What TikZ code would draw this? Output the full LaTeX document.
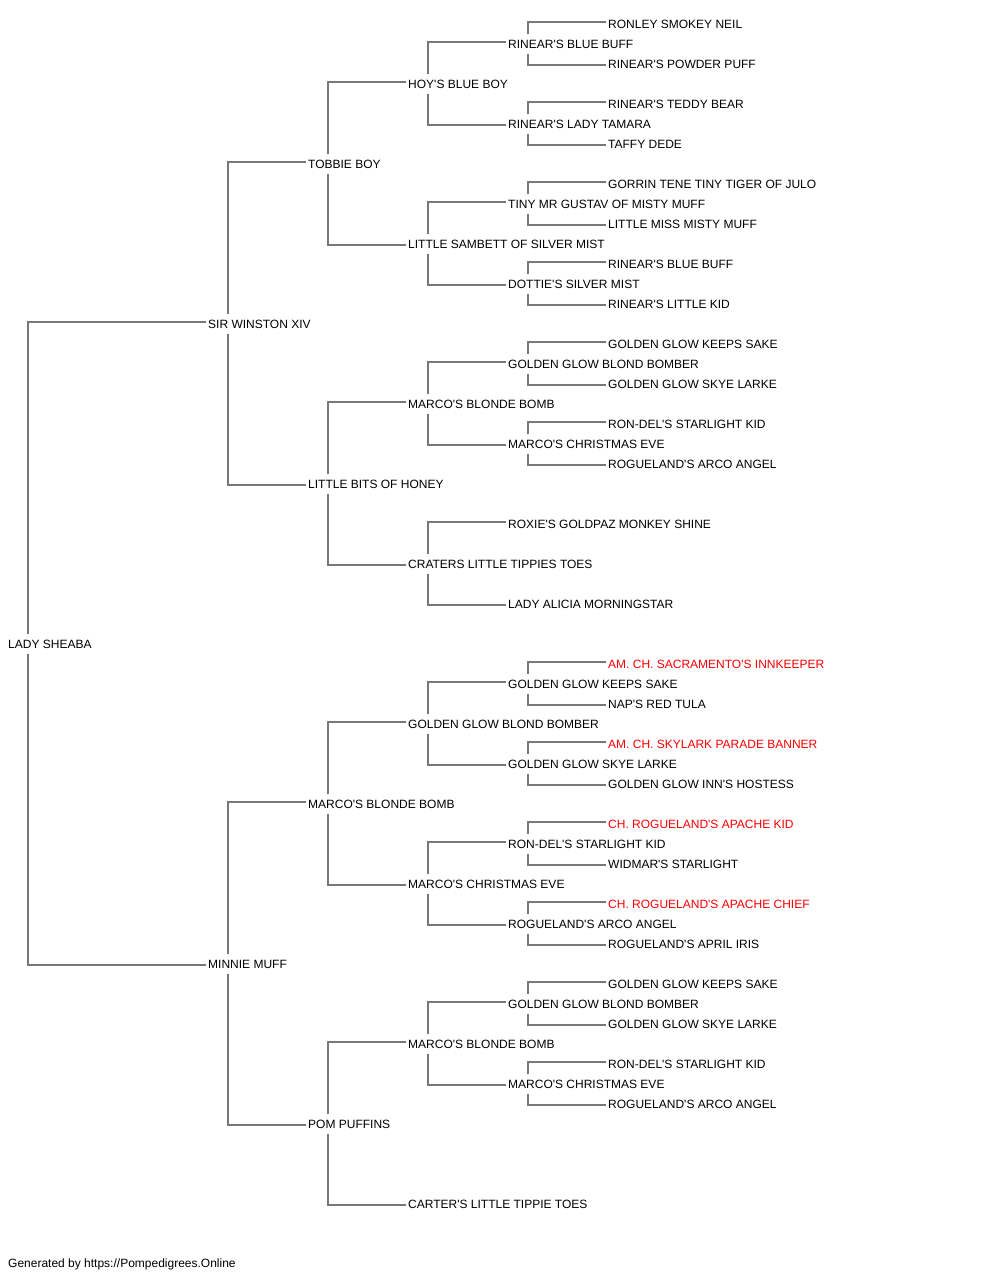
\documentclass[tikz,border=0pt]{standalone}
\usepackage{fontspec}
\setmainfont{Liberation Sans}
\usetikzlibrary{backgrounds}
\newcommand{\pq}{\textquotesingle}
\definecolor{linegray}{RGB}{120,120,120}
\definecolor{champ}{RGB}{255,0,0}
\tikzset{
  lbl/.style={anchor=west, fill=white, inner xsep=2pt, inner ysep=5.7pt,
    text height=8.6pt, text depth=0pt, font=\fontsize{12}{14}\selectfont},
  champlbl/.style={lbl, text=champ},
  conn/.style={draw=linegray, line width=1.5pt},
}
\newcommand{\sire}[2]{\draw[conn] ([xshift=22pt]#1.west) |- ([yshift=2pt]#2.west);}
\newcommand{\dam}[2]{\draw[conn] ([xshift=22pt]#1.west) |- ([yshift=-1pt]#2.west);}
\begin{document}
\begin{tikzpicture}[x=1pt,y=-1pt]
\useasboundingbox (0,0) rectangle (1000,1280);
% generation 0
\node[lbl] (a) at (6,644) {LADY SHEABA};
% generation 1
\node[lbl] (b1) at (206,324) {SIR WINSTON XIV};
\node[lbl] (b2) at (206,964) {MINNIE MUFF};
% generation 2
\node[lbl] (c1) at (306,164) {TOBBIE BOY};
\node[lbl] (c2) at (306,484) {LITTLE BITS OF HONEY};
\node[lbl] (c3) at (306,804) {MARCO\pq S BLONDE BOMB};
\node[lbl] (c4) at (306,1124) {POM PUFFINS};
% generation 3
\node[lbl] (d1) at (406,84) {HOY\pq S BLUE BOY};
\node[lbl] (d2) at (406,244) {LITTLE SAMBETT OF SILVER MIST};
\node[lbl] (d3) at (406,404) {MARCO\pq S BLONDE BOMB};
\node[lbl] (d4) at (406,564) {CRATERS LITTLE TIPPIES TOES};
\node[lbl] (d5) at (406,724) {GOLDEN GLOW BLOND BOMBER};
\node[lbl] (d6) at (406,884) {MARCO\pq S CHRISTMAS EVE};
\node[lbl] (d7) at (406,1044) {MARCO\pq S BLONDE BOMB};
\node[lbl] (d8) at (406,1204) {CARTER\pq S LITTLE TIPPIE TOES};
% generation 4
\node[lbl] (e1) at (506,44) {RINEAR\pq S BLUE BUFF};
\node[lbl] (e2) at (506,124) {RINEAR\pq S LADY TAMARA};
\node[lbl] (e3) at (506,204) {TINY MR GUSTAV OF MISTY MUFF};
\node[lbl] (e4) at (506,284) {DOTTIE\pq S SILVER MIST};
\node[lbl] (e5) at (506,364) {GOLDEN GLOW BLOND BOMBER};
\node[lbl] (e6) at (506,444) {MARCO\pq S CHRISTMAS EVE};
\node[lbl] (e7) at (506,524) {ROXIE\pq S GOLDPAZ MONKEY SHINE};
\node[lbl] (e8) at (506,604) {LADY ALICIA MORNINGSTAR};
\node[lbl] (e9) at (506,684) {GOLDEN GLOW KEEPS SAKE};
\node[lbl] (e10) at (506,764) {GOLDEN GLOW SKYE LARKE};
\node[lbl] (e11) at (506,844) {RON-DEL\pq S STARLIGHT KID};
\node[lbl] (e12) at (506,924) {ROGUELAND\pq S ARCO ANGEL};
\node[lbl] (e13) at (506,1004) {GOLDEN GLOW BLOND BOMBER};
\node[lbl] (e14) at (506,1084) {MARCO\pq S CHRISTMAS EVE};
% generation 5
\node[lbl] (f1) at (606,24) {RONLEY SMOKEY NEIL};
\node[lbl] (f2) at (606,64) {RINEAR\pq S POWDER PUFF};
\node[lbl] (f3) at (606,104) {RINEAR\pq S TEDDY BEAR};
\node[lbl] (f4) at (606,144) {TAFFY DEDE};
\node[lbl] (f5) at (606,184) {GORRIN TENE TINY TIGER OF JULO};
\node[lbl] (f6) at (606,224) {LITTLE MISS MISTY MUFF};
\node[lbl] (f7) at (606,264) {RINEAR\pq S BLUE BUFF};
\node[lbl] (f8) at (606,304) {RINEAR\pq S LITTLE KID};
\node[lbl] (f9) at (606,344) {GOLDEN GLOW KEEPS SAKE};
\node[lbl] (f10) at (606,384) {GOLDEN GLOW SKYE LARKE};
\node[lbl] (f11) at (606,424) {RON-DEL\pq S STARLIGHT KID};
\node[lbl] (f12) at (606,464) {ROGUELAND\pq S ARCO ANGEL};
\node[champlbl] (f17) at (606,664) {AM. CH. SACRAMENTO\pq S INNKEEPER};
\node[lbl] (f18) at (606,704) {NAP\pq S RED TULA};
\node[champlbl] (f19) at (606,744) {AM. CH. SKYLARK PARADE BANNER};
\node[lbl] (f20) at (606,784) {GOLDEN GLOW INN\pq S HOSTESS};
\node[champlbl] (f21) at (606,824) {CH. ROGUELAND\pq S APACHE KID};
\node[lbl] (f22) at (606,864) {WIDMAR\pq S STARLIGHT};
\node[champlbl] (f23) at (606,904) {CH. ROGUELAND\pq S APACHE CHIEF};
\node[lbl] (f24) at (606,944) {ROGUELAND\pq S APRIL IRIS};
\node[lbl] (f25) at (606,984) {GOLDEN GLOW KEEPS SAKE};
\node[lbl] (f26) at (606,1024) {GOLDEN GLOW SKYE LARKE};
\node[lbl] (f27) at (606,1064) {RON-DEL\pq S STARLIGHT KID};
\node[lbl] (f28) at (606,1104) {ROGUELAND\pq S ARCO ANGEL};
% footer
\node[lbl, text depth=2.5pt] (foot) at (6,1264) {Generated by https://Pompedigrees.Online};
\begin{pgfonlayer}{background}
\sire{a}{b1} \dam{a}{b2}
\sire{b1}{c1} \dam{b1}{c2}
\sire{b2}{c3} \dam{b2}{c4}
\sire{c1}{d1} \dam{c1}{d2}
\sire{c2}{d3} \dam{c2}{d4}
\sire{c3}{d5} \dam{c3}{d6}
\sire{c4}{d7} \dam{c4}{d8}
\sire{d1}{e1} \dam{d1}{e2}
\sire{d2}{e3} \dam{d2}{e4}
\sire{d3}{e5} \dam{d3}{e6}
\sire{d4}{e7} \dam{d4}{e8}
\sire{d5}{e9} \dam{d5}{e10}
\sire{d6}{e11} \dam{d6}{e12}
\sire{d7}{e13} \dam{d7}{e14}
\sire{e1}{f1} \dam{e1}{f2}
\sire{e2}{f3} \dam{e2}{f4}
\sire{e3}{f5} \dam{e3}{f6}
\sire{e4}{f7} \dam{e4}{f8}
\sire{e5}{f9} \dam{e5}{f10}
\sire{e6}{f11} \dam{e6}{f12}
\sire{e9}{f17} \dam{e9}{f18}
\sire{e10}{f19} \dam{e10}{f20}
\sire{e11}{f21} \dam{e11}{f22}
\sire{e12}{f23} \dam{e12}{f24}
\sire{e13}{f25} \dam{e13}{f26}
\sire{e14}{f27} \dam{e14}{f28}
\end{pgfonlayer}
\end{tikzpicture}
\end{document}
